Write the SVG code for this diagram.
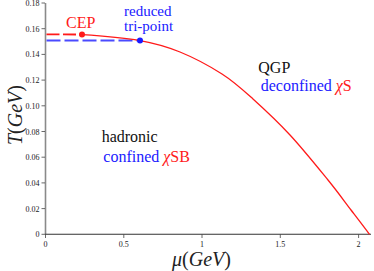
<svg xmlns="http://www.w3.org/2000/svg" width="374" height="271" viewBox="0 0 374 271" font-family="'Liberation Serif', 'DejaVu Serif', 'Times New Roman', serif">
<style>
  text { font-family: "Liberation Serif", "DejaVu Serif", "Times New Roman", serif; }
  .tick { font-size: 8px; fill: #222; }
  .lbl { font-size: 16px; }
  .sm { font-size: 15px; }
  .ax { font-size: 20px; fill: #222; }
  .it { font-style: italic; }
  .blk { fill: #111; }
  .blu { fill: #2020ff; }
  .red { fill: #ff1a1a; }
  .tk { stroke: #444; stroke-width: 0.8; }
</style>
<rect width="374" height="271" fill="#ffffff"/>
<g id="axes">
  <line x1="45.5" y1="3" x2="45.5" y2="234.3" stroke="#8a8a8a" stroke-width="1.6"/>
  <line x1="45" y1="234.3" x2="371" y2="234.3" stroke="#333" stroke-width="1.1"/>
  <g class="tk">
    <line x1="41.5" y1="3" x2="45" y2="3"/>
    <line x1="41.5" y1="28.7" x2="45" y2="28.7"/>
    <line x1="41.5" y1="54.4" x2="45" y2="54.4"/>
    <line x1="41.5" y1="80.1" x2="45" y2="80.1"/>
    <line x1="41.5" y1="105.8" x2="45" y2="105.8"/>
    <line x1="41.5" y1="131.5" x2="45" y2="131.5"/>
    <line x1="41.5" y1="157.2" x2="45" y2="157.2"/>
    <line x1="41.5" y1="182.9" x2="45" y2="182.9"/>
    <line x1="41.5" y1="208.6" x2="45" y2="208.6"/>
    <line x1="41.5" y1="234.3" x2="45" y2="234.3"/>
    <line x1="45.5" y1="234.3" x2="45.5" y2="238"/>
    <line x1="123.8" y1="234.3" x2="123.8" y2="238"/>
    <line x1="202" y1="234.3" x2="202" y2="238"/>
    <line x1="280.3" y1="234.3" x2="280.3" y2="238"/>
    <line x1="358.6" y1="234.3" x2="358.6" y2="238"/>
  </g>
  <g class="tick" text-anchor="end">
    <text x="39.5" y="6">0.18</text>
    <text x="39.5" y="31.7">0.16</text>
    <text x="39.5" y="57.4">0.14</text>
    <text x="39.5" y="83.1">0.12</text>
    <text x="39.5" y="108.8">0.10</text>
    <text x="39.5" y="134.5">0.08</text>
    <text x="39.5" y="160.2">0.06</text>
    <text x="39.5" y="185.9">0.04</text>
    <text x="39.5" y="211.6">0.02</text>
    <text x="39.5" y="237.3">0</text>
  </g>
  <g class="tick" text-anchor="middle">
    <text x="45.5" y="246.5">0</text>
    <text x="123.8" y="246.5">0.5</text>
    <text x="202" y="246.5">1</text>
    <text x="280.3" y="246.5">1.5</text>
    <text x="358.6" y="246.5">2</text>
  </g>
  <text class="ax" transform="translate(22,115) rotate(-90)" text-anchor="middle"><tspan class="it">T</tspan>(<tspan class="it">GeV</tspan>)</text>
  <text class="ax" x="172" y="266"><tspan class="it">μ</tspan>(<tspan class="it">GeV</tspan>)</text>
</g>
<g id="connectors">
  <line x1="46.5" y1="40.6" x2="140" y2="40.6" stroke="#4a4aff" stroke-width="2" stroke-dasharray="14,4"/>
  <line x1="46.5" y1="34.4" x2="82" y2="34.5" stroke="#ff1a1a" stroke-width="1.8" stroke-dasharray="13,3.5"/>
  <path d="M82,34.6 C101.3,35.8 123.7,37.7 140,40.6 C156.3,43.5 166.3,46.4 180,52 C193.7,57.6 209.8,66.2 222,74 C234.2,81.8 241.7,88.8 253,99 C264.3,109.2 277.5,121.5 290,135 C302.5,148.5 317.8,167.5 328,180 C338.2,192.5 344.1,201 351,210 C357.9,219 363.3,226 369.5,234.3" fill="none" stroke="#ff1a1a" stroke-width="1.3"/>
</g>
<g id="cep">
  <circle cx="82" cy="34.5" r="3" fill="#ff1a1a"/>
  <text class="lbl red" x="66" y="28.3">CEP</text>
</g>
<g id="tripoint">
  <circle cx="140" cy="40.6" r="3" fill="#1a1aff"/>
  <text class="sm blu" x="124" y="15.5">reduced</text>
  <text class="sm blu" x="124" y="31.3">tri-point</text>
</g>
<g id="qgp">
  <text class="lbl blk" x="258.3" y="73.3">QGP</text>
  <text class="lbl" x="260.7" y="90.7"><tspan class="blu">deconfined</tspan> <tspan class="red it">χ</tspan><tspan class="red">S</tspan></text>
</g>
<g id="hadronic">
  <text class="lbl blk" x="101.7" y="142.3">hadronic</text>
  <text class="lbl" x="103.3" y="161.7"><tspan class="blu">confined</tspan> <tspan class="red it">χ</tspan><tspan class="red">SB</tspan></text>
</g>
</svg>
